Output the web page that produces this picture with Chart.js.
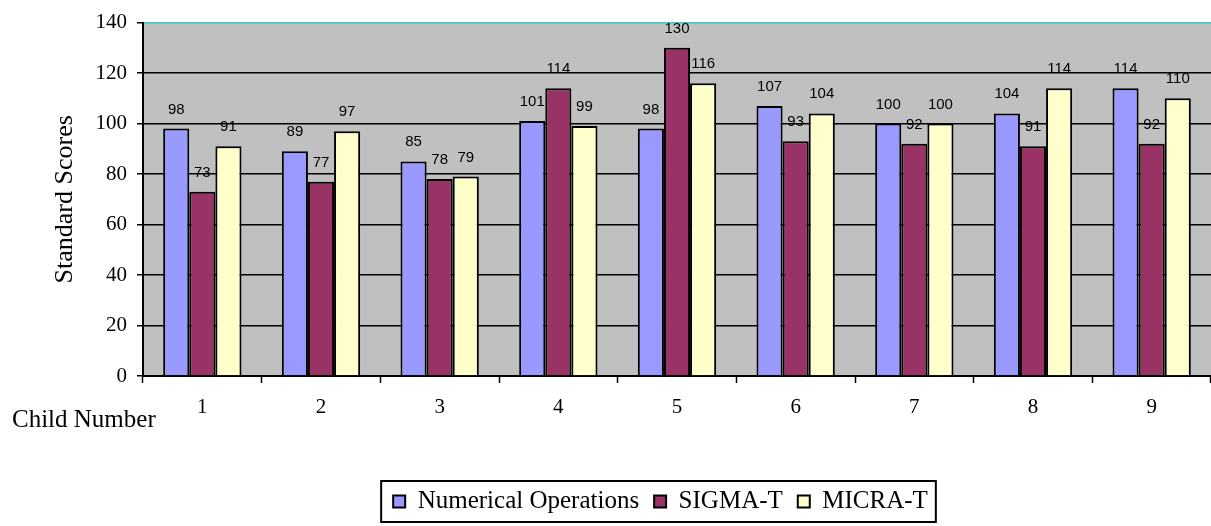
<!DOCTYPE html>
<html lang="en">
<head>
<meta charset="UTF-8">
<title>Standard Scores by Child</title>
<script src="https://cdn.jsdelivr.net/npm/chart.js"></script>
<style>
  body { margin: 0; background: #fff; }
  #wrap { width: 1211px; height: 526px; }
</style>
</head>
<body>
<div id="wrap"><canvas id="scoreChart" width="1211" height="526"></canvas></div>
<script>
  const children = ['1', '2', '3', '4', '5', '6', '7', '8', '9'];
  const numericalOps = [98, 89, 85, 101, 98, 107, 100, 104, 114];
  const sigmaT = [73, 77, 78, 114, 130, 93, 92, 91, 92];
  const micraT = [91, 97, 79, 99, 116, 104, 100, 114, 110];
  const yMin = 0, yMax = 140, yStep = 20;

  const serif = "'Liberation Serif', 'Times New Roman', serif";

  // grey plot background
  const plotBg = {
    id: 'plotBg',
    beforeDraw(chart) {
      const { ctx, chartArea: a } = chart;
      ctx.save();
      ctx.fillStyle = '#c0c0c0';
      ctx.fillRect(a.left, a.top, a.right - a.left, a.bottom - a.top);
      ctx.restore();
    }
  };

  // legend sits a bit right of centre in the original
  const legendShift = {
    id: 'legendShift',
    afterLayout(chart) {
      chart.legend.left = 110;
    }
  };

  // numbers above each bar
  const valueLabels = {
    id: 'valueLabels',
    afterDatasetsDraw(chart) {
      const ctx = chart.ctx;
      ctx.save();
      ctx.font = "15px 'Liberation Sans', Arial, sans-serif";
      ctx.fillStyle = '#000';
      ctx.textAlign = 'center';
      ctx.textBaseline = 'alphabetic';
      chart.data.datasets.forEach((ds, i) => {
        chart.getDatasetMeta(i).data.forEach((bar, j) => {
          ctx.fillText(String(ds.data[j]), bar.x, bar.y - 15);
        });
      });
      ctx.restore();
    }
  };

  // "Child Number" caption and the box around the legend
  const extras = {
    id: 'extras',
    afterDraw(chart) {
      const ctx = chart.ctx;
      ctx.save();
      ctx.font = '25px ' + serif;
      ctx.fillStyle = '#000';
      ctx.textAlign = 'left';
      ctx.textBaseline = 'alphabetic';
      ctx.fillText('Child Number', 12, 427);

      const boxes = chart.legend.legendHitBoxes;
      if (boxes && boxes.length) {
        const left = Math.min(...boxes.map(b => b.left)) - 12;
        const right = Math.max(...boxes.map(b => b.left + b.width)) + 8;
        const top = boxes[0].top - 8;
        const bottom = boxes[0].top + boxes[0].height + 8;
        ctx.strokeStyle = '#000';
        ctx.lineWidth = 2;
        ctx.strokeRect(left, top, right - left, bottom - top);
      }
      ctx.restore();
    }
  };

  new Chart(document.getElementById('scoreChart'), {
    type: 'bar',
    data: {
      labels: children,
      datasets: [
        { label: 'Numerical Operations', data: numericalOps, backgroundColor: '#9999ff' },
        { label: 'SIGMA-T', data: sigmaT, backgroundColor: '#993366' },
        { label: 'MICRA-T', data: micraT, backgroundColor: '#ffffcc' }
      ]
    },
    options: {
      responsive: false,
      animation: false,
      layout: { padding: { top: 21, right: 0, left: 0, bottom: 2 } },
      datasets: {
        bar: {
          borderColor: '#000',
          borderWidth: 2,
          categoryPercentage: 0.66,
          barPercentage: 1.0
        }
      },
      plugins: {
        tooltip: { enabled: false },
        legend: {
          position: 'bottom',
          labels: {
            font: { family: serif, size: 25 },
            color: '#000',
            boxWidth: 12,
            boxHeight: 12,
            padding: 15
          }
        }
      },
      scales: {
        x: {
          grid: {
            drawOnChartArea: false,
            drawTicks: true,
            tickLength: 7,
            tickColor: '#000',
            tickWidth: 1.5
          },
          border: { color: '#000', width: 2 },
          ticks: { font: { family: serif, size: 21 }, color: '#000', padding: 12 },
          afterFit(scale) { scale.height = 98; }
        },
        y: {
          min: yMin,
          max: yMax,
          ticks: { stepSize: yStep, font: { family: serif, size: 21 }, color: '#000', padding: 10 },
          grid: {
            color: ctx => (ctx.tick && ctx.tick.value === yMax ? '#33cccc' : '#000'),
            lineWidth: 1.5,
            tickLength: 6,
            tickColor: '#000'
          },
          border: { color: '#000', width: 2 },
          title: {
            display: true,
            text: 'Standard Scores',
            font: { family: serif, size: 26 },
            color: '#000',
            padding: { top: 50, bottom: 0 }
          },
          afterFit(scale) { scale.width = 143; }
        }
      }
    },
    plugins: [plotBg, legendShift, valueLabels, extras]
  });
</script>
</body>
</html>
